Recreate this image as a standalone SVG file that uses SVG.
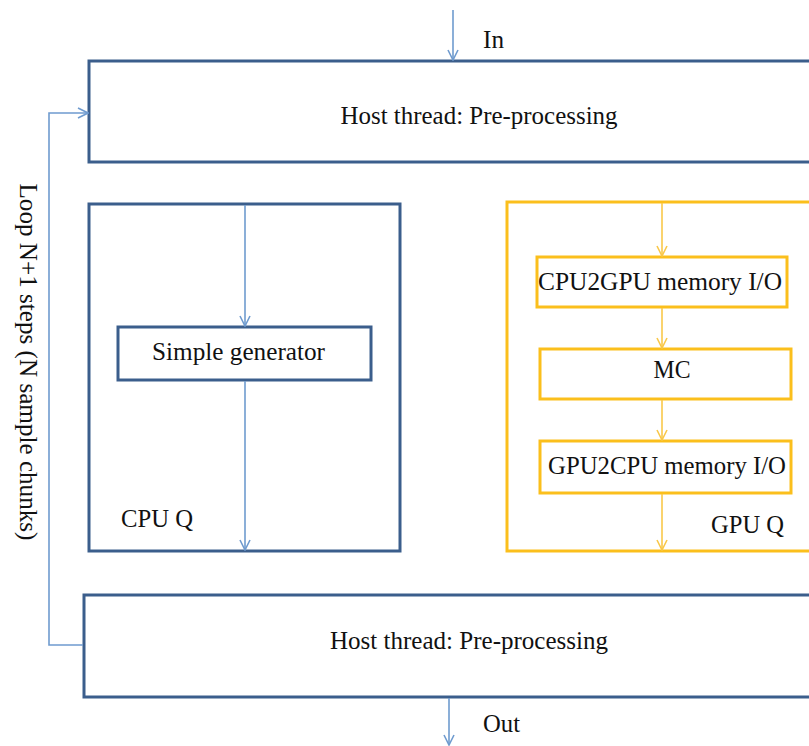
<svg xmlns="http://www.w3.org/2000/svg" width="809" height="746" viewBox="0 0 809 746">
<defs>
<style>
.box{fill:#fff;stroke:#3b5e8c;stroke-width:3}
.ybox{fill:#fff;stroke:#fbbf1c;stroke-width:3}
.ln{fill:none;stroke:#6f9bcf;stroke-width:1.6}
.yln{fill:none;stroke:#f9c84a;stroke-width:1.6}
text{font-family:"Liberation Serif","Times New Roman",serif;font-size:25px;fill:#111}
.c{text-anchor:middle}
</style>
<marker id="ab" viewBox="0 0 12 12" refX="11" refY="6" markerWidth="12" markerHeight="12" markerUnits="userSpaceOnUse" orient="auto">
<path d="M1,1 L11,6 L1,11" fill="none" stroke="#6f9bcf" stroke-width="1.6"/>
</marker>
<marker id="ay" viewBox="0 0 12 12" refX="11" refY="6" markerWidth="12" markerHeight="12" markerUnits="userSpaceOnUse" orient="auto">
<path d="M1,1 L11,6 L1,11" fill="none" stroke="#f9c84a" stroke-width="1.6"/>
</marker>
</defs>
<rect width="809" height="746" fill="#fff"/>

<g id="host-top">
<rect class="box" x="89" y="61" width="730" height="101"/>
<text class="c" x="479" y="124" textLength="277" lengthAdjust="spacingAndGlyphs">Host thread: Pre-processing</text>
</g>
<g id="cpu-q">
<rect class="box" x="89" y="204" width="311" height="347"/>
<text x="121" y="527" textLength="72" lengthAdjust="spacingAndGlyphs">CPU Q</text>
</g>
<g id="simple-generator">
<rect class="box" x="118" y="327" width="253" height="53"/>
<text class="c" x="238.5" y="360" textLength="173" lengthAdjust="spacingAndGlyphs">Simple generator</text>
</g>
<g id="gpu-q">
<rect class="ybox" x="507" y="202" width="312" height="349"/>
<text x="711" y="533" textLength="73" lengthAdjust="spacingAndGlyphs">GPU Q</text>
</g>
<g id="cpu2gpu">
<rect class="ybox" x="537" y="257" width="250" height="50"/>
<text class="c" x="660" y="290" textLength="244" lengthAdjust="spacingAndGlyphs">CPU2GPU memory I/O</text>
</g>
<g id="mc">
<rect class="ybox" x="540" y="349" width="251" height="50"/>
<text class="c" x="672" y="378" textLength="37" lengthAdjust="spacingAndGlyphs">MC</text>
</g>
<g id="gpu2cpu">
<rect class="ybox" x="540" y="441" width="251" height="52"/>
<text class="c" x="667" y="474" textLength="238" lengthAdjust="spacingAndGlyphs">GPU2CPU memory I/O</text>
</g>
<g id="host-bottom">
<rect class="box" x="84" y="595" width="735" height="102"/>
<text class="c" x="469" y="649" textLength="278" lengthAdjust="spacingAndGlyphs">Host thread: Pre-processing</text>
</g>

<g id="connectors">
<line class="ln" x1="453" y1="10" x2="453" y2="60" marker-end="url(#ab)"/>
<text x="483" y="48" textLength="21" lengthAdjust="spacingAndGlyphs">In</text>
<line class="ln" x1="245" y1="205" x2="245" y2="326" marker-end="url(#ab)"/>
<line class="ln" x1="245" y1="381" x2="245" y2="550" marker-end="url(#ab)"/>
<line class="yln" x1="662" y1="203" x2="662" y2="256" marker-end="url(#ay)"/>
<line class="yln" x1="662" y1="308" x2="662" y2="348" marker-end="url(#ay)"/>
<line class="yln" x1="662" y1="400" x2="662" y2="440" marker-end="url(#ay)"/>
<line class="yln" x1="662" y1="494" x2="662" y2="550" marker-end="url(#ay)"/>
<line class="ln" x1="449" y1="698" x2="449" y2="745" marker-end="url(#ab)"/>
<text x="483" y="732" textLength="37" lengthAdjust="spacingAndGlyphs">Out</text>
<path class="ln" d="M83,645 H49 V113 H88" marker-end="url(#ab)"/>
<text class="c" transform="translate(20,362) rotate(90)" textLength="357" lengthAdjust="spacingAndGlyphs">Loop N+1 steps (N sample chunks)</text>
</g>
</svg>
